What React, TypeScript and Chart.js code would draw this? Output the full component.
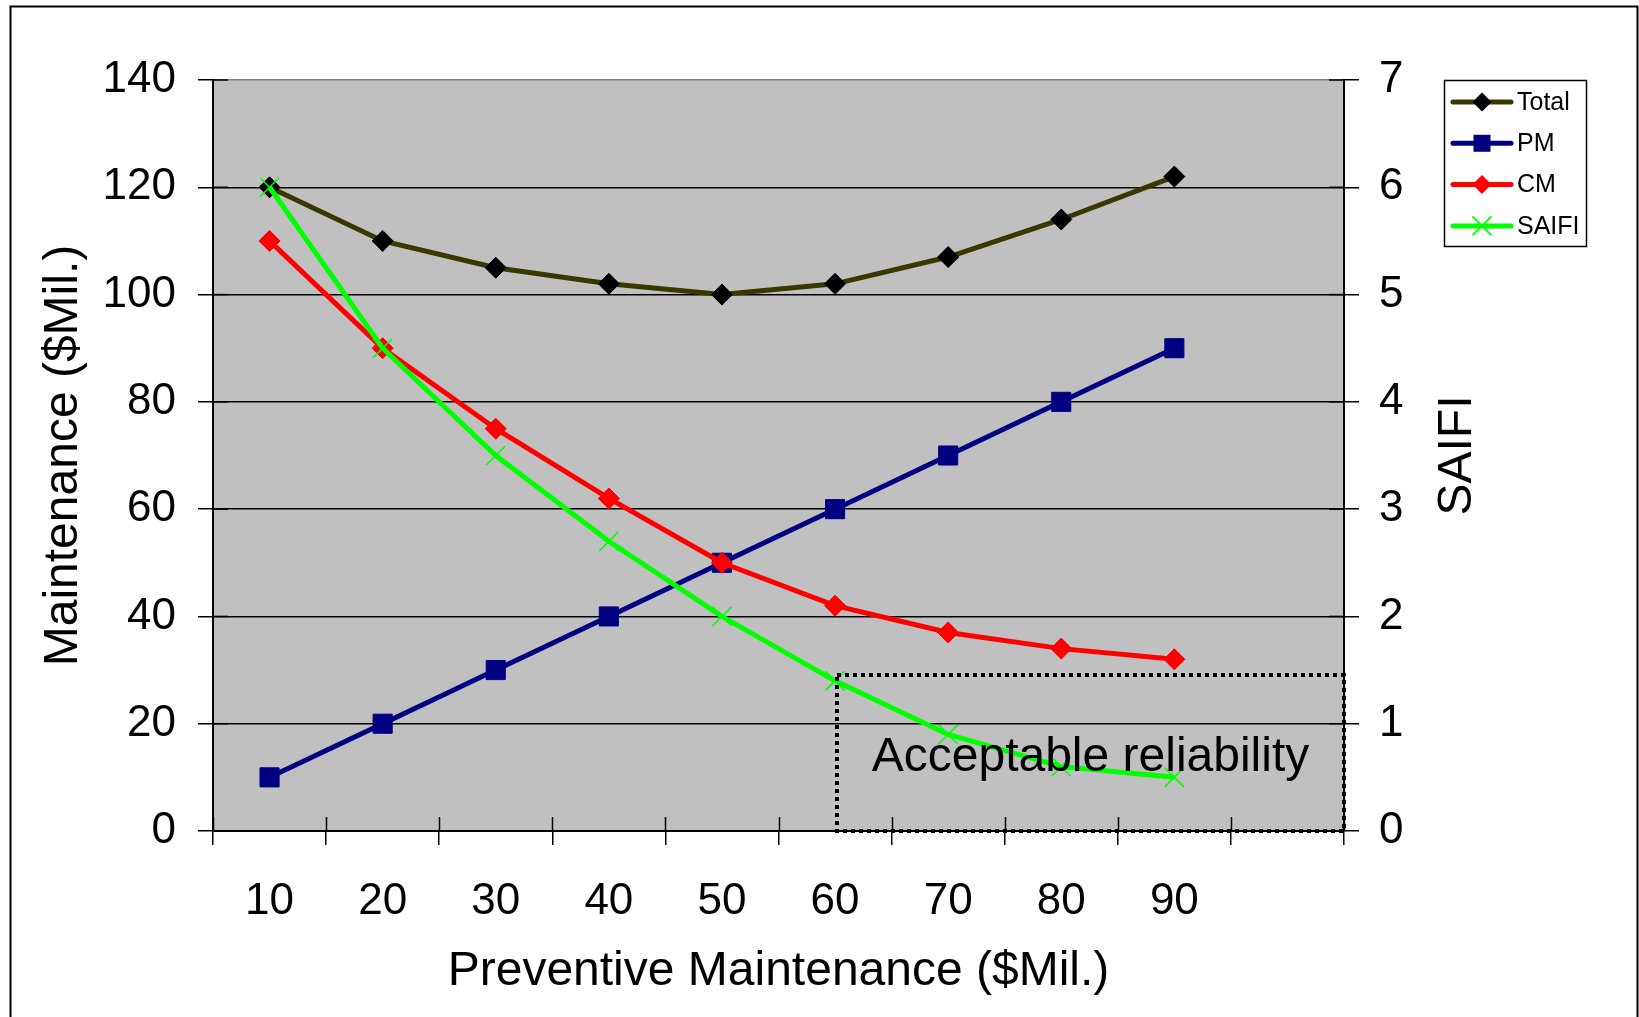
import React, { useEffect, useRef } from 'react';
import { Chart, registerables } from 'chart.js';

Chart.register(...registerables);

// ---------- data ----------
const categories = ['10', '20', '30', '40', '50', '60', '70', '80', '90', ''];
const totalCost = [120, 110, 105, 102, 100, 102, 107, 114, 122];
const pmCost = [10, 20, 30, 40, 50, 60, 70, 80, 90];
const cmCost = [110, 90, 75, 62, 50, 42, 37, 34, 32];
const saifiValues = [6.0, 4.5, 3.5, 2.7, 2.0, 1.4, 0.9, 0.6, 0.5];

const leftAxisMin = 0;
const leftAxisMax = 140;
const leftAxisStep = 20;
const rightAxisMin = 0;
const rightAxisMax = 7;
const rightAxisStep = 1;

const acceptableSaifi = 1.45;
const acceptableFromCategory = '60';
const acceptableLabel = 'Acceptable reliability';

const xTitle = 'Preventive Maintenance ($Mil.)';
const leftTitle = 'Maintenance ($Mil.)';
const rightTitle = 'SAIFI';

const FONT = '"Liberation Sans", Arial, Helvetica, sans-serif';

function drawMarker(
  ctx: CanvasRenderingContext2D,
  style: string,
  x: number,
  y: number,
  r: number,
  fill: string,
  stroke: string,
  lw: number
) {
  ctx.save();
  ctx.beginPath();
  if (style === 'rectRot') {
    ctx.moveTo(x - r, y);
    ctx.lineTo(x, y - r);
    ctx.lineTo(x + r, y);
    ctx.lineTo(x, y + r);
    ctx.closePath();
    ctx.fillStyle = fill;
    ctx.fill();
  } else if (style === 'rect') {
    ctx.rect(x - r, y - r, 2 * r, 2 * r);
    ctx.fillStyle = fill;
    ctx.fill();
  } else {
    ctx.moveTo(x - r, y - r);
    ctx.lineTo(x + r, y + r);
    ctx.moveTo(x - r, y + r);
    ctx.lineTo(x + r, y - r);
    ctx.strokeStyle = stroke;
    ctx.lineWidth = lw;
    ctx.stroke();
  }
  ctx.restore();
}

const backgroundPlugin = {
  id: 'plotBackground',
  beforeDraw(chart: any) {
    const { ctx, chartArea, width, height } = chart;
    ctx.save();
    ctx.fillStyle = '#ffffff';
    ctx.fillRect(0, 0, width, height);
    ctx.fillStyle = '#c0c0c0';
    ctx.fillRect(chartArea.left, chartArea.top, chartArea.right - chartArea.left, chartArea.bottom - chartArea.top);
    // outer frame
    ctx.strokeStyle = '#000';
    ctx.lineWidth = 2;
    ctx.strokeRect(10.5, 6.5, 1627, 1030);
    ctx.restore();
  },
};

const innerTicksPlugin = {
  id: 'innerTicks',
  afterDraw(chart: any) {
    const { ctx, chartArea, scales } = chart;
    ctx.save();
    ctx.strokeStyle = '#000';
    ctx.lineWidth = 1.5;
    const xs = scales.x;
    const n = xs.getLabels().length;
    const half = (xs.getPixelForValue(1) - xs.getPixelForValue(0)) / 2;
    for (let i = 0; i <= n; i++) {
      const px = Math.round(xs.getPixelForValue(i) - half) + 0.5;
      ctx.beginPath();
      ctx.moveTo(px, chartArea.bottom - 14);
      ctx.lineTo(px, chartArea.bottom);
      ctx.stroke();
    }
    const ys = scales.y;
    ys.ticks.forEach((t: any) => {
      const py = ys.getPixelForValue(t.value);
      ctx.beginPath();
      ctx.moveTo(chartArea.left, py);
      ctx.lineTo(chartArea.left + 15, py);
      ctx.stroke();
    });
    const y1 = scales.y1;
    y1.ticks.forEach((t: any) => {
      const py = y1.getPixelForValue(t.value);
      ctx.beginPath();
      ctx.moveTo(chartArea.right - 15, py);
      ctx.lineTo(chartArea.right, py);
      ctx.stroke();
    });
    ctx.restore();
  },
};

const annotationPlugin = {
  id: 'acceptableBox',
  afterDatasetsDraw(chart: any) {
    const { ctx, chartArea, scales } = chart;
    const xs = scales.x;
    const y1 = scales.y1;
    const left = Math.round(xs.getPixelForValue(categories.indexOf(acceptableFromCategory))) + 2;
    const right = Math.round(chartArea.right);
    const top = Math.round(y1.getPixelForValue(acceptableSaifi));
    const bottom = Math.round(chartArea.bottom);
    ctx.save();
    ctx.strokeStyle = '#000';
    ctx.lineWidth = 4;
    ctx.setLineDash([4, 4]);
    ctx.strokeRect(left, top, right - left, bottom - top);
    ctx.setLineDash([]);
    ctx.fillStyle = '#000';
    ctx.font = `48px ${FONT}`;
    ctx.textAlign = 'center';
    ctx.textBaseline = 'middle';
    ctx.fillText(acceptableLabel, (left + right) / 2, (top + bottom) / 2 + 5);
    ctx.restore();
  },
};

const legendAndTitlePlugin = {
  id: 'customLegend',
  afterDraw(chart: any) {
    const { ctx, chartArea } = chart;
    ctx.save();
    // right axis title, reading bottom to top
    ctx.fillStyle = '#000';
    ctx.font = `48px ${FONT}`;
    ctx.textAlign = 'center';
    ctx.textBaseline = 'middle';
    ctx.translate(chartArea.right + 114, (chartArea.top + chartArea.bottom) / 2);
    ctx.rotate(-Math.PI / 2);
    ctx.fillText(rightTitle, 0, 0);
    ctx.restore();

    // legend
    const bx = chartArea.right + 100;
    const by = chartArea.top;
    const bw = 142;
    const bh = 166;
    ctx.save();
    ctx.fillStyle = '#fff';
    ctx.fillRect(bx, by, bw, bh);
    ctx.strokeStyle = '#000';
    ctx.lineWidth = 1.5;
    ctx.strokeRect(bx + 0.5, by + 0.5, bw, bh);
    const datasets = chart.data.datasets;
    datasets.forEach((ds: any, i: number) => {
      const y = by + 22 + i * 41.3;
      ctx.beginPath();
      ctx.strokeStyle = ds.borderColor;
      ctx.lineWidth = 5;
      ctx.lineCap = 'round';
      ctx.moveTo(bx + 9, y);
      ctx.lineTo(bx + 67, y);
      ctx.stroke();
      const style = ds.pointStyle;
      const r = style === 'rect' ? 8.5 : style === 'crossRot' ? 9 : 9.5;
      drawMarker(ctx, style, bx + 38, y, r, ds.pointBackgroundColor, ds.pointBorderColor, 1.8);
      ctx.fillStyle = '#000';
      ctx.font = `25px ${FONT}`;
      ctx.textAlign = 'left';
      ctx.textBaseline = 'middle';
      ctx.fillText(ds.label, bx + 73, y + 1);
    });
    ctx.restore();
  },
};

export default function App() {
  const canvasRef = useRef<HTMLCanvasElement | null>(null);

  useEffect(() => {
    if (!canvasRef.current) return;
    const tickFont = { size: 44, family: FONT };
    const titleFont = { size: 48, family: FONT };
    const chart = new Chart(canvasRef.current, {
      type: 'line',
      data: {
        labels: categories,
        datasets: [
          {
            label: 'Total',
            data: totalCost,
            yAxisID: 'y',
            borderColor: '#383800',
            borderWidth: 5,
            pointStyle: 'rectRot',
            pointRadius: 10.5,
            pointBackgroundColor: '#000000',
            pointBorderColor: '#000000',
            pointBorderWidth: 1,
            tension: 0,
            order: 4,
          },
          {
            label: 'PM',
            data: pmCost,
            yAxisID: 'y',
            borderColor: '#000080',
            borderWidth: 5,
            pointStyle: 'rect',
            pointRadius: 13.5,
            pointBackgroundColor: '#000080',
            pointBorderColor: '#000080',
            pointBorderWidth: 1,
            tension: 0,
            order: 3,
          },
          {
            label: 'CM',
            data: cmCost,
            yAxisID: 'y',
            borderColor: '#ff0000',
            borderWidth: 5,
            pointStyle: 'rectRot',
            pointRadius: 10.5,
            pointBackgroundColor: '#ff0000',
            pointBorderColor: '#ff0000',
            pointBorderWidth: 1,
            tension: 0,
            order: 2,
          },
          {
            label: 'SAIFI',
            data: saifiValues,
            yAxisID: 'y1',
            borderColor: '#00ff00',
            borderWidth: 5,
            pointStyle: 'crossRot',
            pointRadius: 13.5,
            pointBackgroundColor: '#00ff00',
            pointBorderColor: '#00ff00',
            pointBorderWidth: 1.5,
            tension: 0,
            order: 1,
          },
        ],
      },
      options: {
        responsive: false,
        animation: false,
        devicePixelRatio: 1,
        layout: { padding: { left: 0, right: 157, top: 80, bottom: 0 } },
        plugins: {
          legend: { display: false },
          tooltip: { enabled: false },
        },
        scales: {
          x: {
            type: 'category',
            offset: true,
            grid: {
              display: true,
              drawOnChartArea: false,
              drawTicks: true,
              tickLength: 14,
              tickColor: '#000',
              color: '#000',
              lineWidth: 1.5,
              offset: true,
            },
            border: { display: true, color: '#000', width: 2 },
            ticks: {
              color: '#000',
              font: tickFont,
              padding: 30,
              maxRotation: 0,
              minRotation: 0,
              autoSkip: false,
            },
            title: {
              display: true,
              text: xTitle,
              color: '#000',
              font: titleFont,
              padding: { top: 0, bottom: 16 },
            },
            afterFit: (s: any) => {
              s.height = 186;
            },
          },
          y: {
            position: 'left',
            min: leftAxisMin,
            max: leftAxisMax,
            ticks: { stepSize: leftAxisStep, color: '#000', font: tickFont, padding: 22 },
            grid: {
              color: (c: any) => (c.tick && c.tick.value === leftAxisMax ? '#808080' : '#000'),
              lineWidth: 1.5,
              tickLength: 15,
              tickColor: '#000',
            },
            border: { display: true, color: '#000', width: 2 },
            title: {
              display: true,
              text: leftTitle,
              color: '#000',
              font: titleFont,
              padding: { top: 35, bottom: 0 },
            },
            afterFit: (s: any) => {
              s.width = 213;
            },
          },
          y1: {
            position: 'right',
            min: rightAxisMin,
            max: rightAxisMax,
            ticks: { stepSize: rightAxisStep, color: '#000', font: tickFont, padding: 20 },
            grid: {
              drawOnChartArea: false,
              lineWidth: 1.5,
              tickLength: 15,
              tickColor: '#000',
              color: '#000',
            },
            border: { display: true, color: '#000', width: 2 },
            title: { display: false },
            afterFit: (s: any) => {
              s.width = 138;
            },
          },
        },
      },
      plugins: [backgroundPlugin, innerTicksPlugin, annotationPlugin, legendAndTitlePlugin],
    } as any);
    return () => {
      chart.destroy();
    };
  }, []);

  return (
    <div style={{ position: 'fixed', left: 0, top: 0, width: 1639, height: 1017, background: '#fff' }}>
      <canvas ref={canvasRef} width={1639} height={1017} style={{ display: 'block', width: 1639, height: 1017 }} />
    </div>
  );
}
